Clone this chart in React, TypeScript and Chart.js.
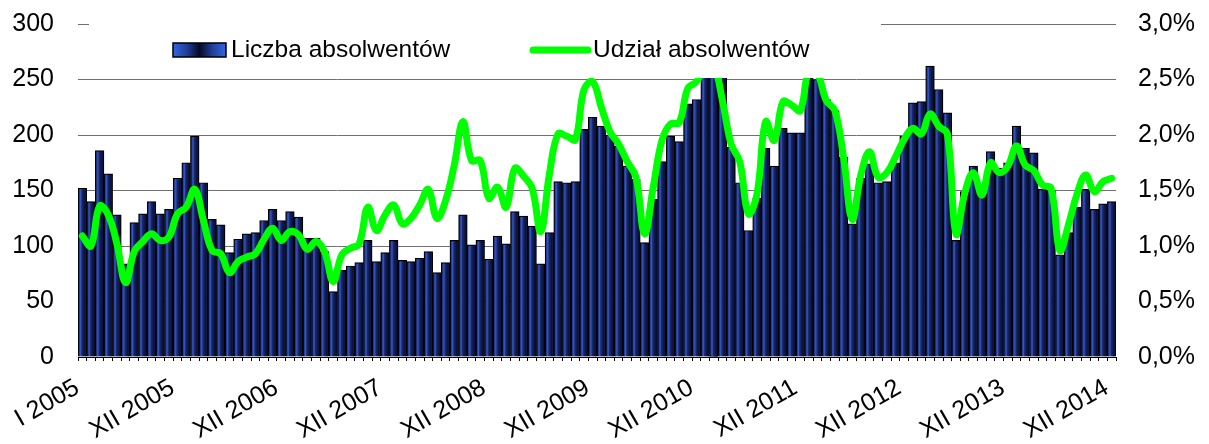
import { useEffect, useRef } from 'react';
import { Chart, registerables } from 'chart.js';

Chart.register(...registerables);

const romanMonths = ['I', 'II', 'III', 'IV', 'V', 'VI', 'VII', 'VIII', 'IX', 'X', 'XI', 'XII'];
const years = [2005, 2006, 2007, 2008, 2009, 2010, 2011, 2012, 2013, 2014];
const categories = years.flatMap((y) => romanMonths.map((m) => `${m} ${y}`));
const shownTickLabels = [
  'I 2005', 'XII 2005', 'XII 2006', 'XII 2007', 'XII 2008', 'XII 2009',
  'XII 2010', 'XII 2011', 'XII 2012', 'XII 2013', 'XII 2014',
];

// Liczba absolwentów (left axis)
const graduatesCount = [
  152, 140, 186, 165, 128, 84, 121, 129, 140, 129, 133, 161,
  175, 199, 157, 124, 119, 94, 106, 111, 112, 123, 133, 123,
  131, 126, 107, 107, 95, 59, 78, 82, 85, 105, 86, 94,
  105, 87, 86, 89, 95, 76, 85, 105, 128, 101, 105, 88,
  109, 102, 131, 127, 118, 84, 112, 158, 157, 158, 205, 216,
  208, 200, 190, 172, 160, 103, 142, 176, 199, 194, 228, 232,
  262, 268, 254, 189, 157, 114, 143, 188, 172, 206, 202, 202,
  262, 250, 232, 222, 180, 120, 161, 174, 157, 158, 175, 199,
  229, 230, 262, 241, 220, 105, 149, 172, 150, 185, 170, 175,
  208, 188, 184, 151, 150, 92, 112, 135, 151, 133, 138, 140,
];

// Udział absolwentów, % (right axis)
const graduatesShare = [
  1.09, 1.0, 1.36, 1.28, 1.02, 0.67, 0.95, 1.04, 1.11, 1.05, 1.08, 1.29,
  1.35, 1.51, 1.23, 0.96, 0.93, 0.76, 0.86, 0.9, 0.93, 1.06, 1.16, 1.05,
  1.13, 1.1, 0.97, 1.04, 0.95, 0.68, 0.92, 0.98, 1.02, 1.35, 1.14, 1.28,
  1.37, 1.2, 1.25, 1.37, 1.51, 1.25, 1.41, 1.73, 2.12, 1.77, 1.77, 1.43,
  1.53, 1.35, 1.7, 1.63, 1.52, 1.13, 1.65, 2.01, 1.99, 1.96, 2.41, 2.48,
  2.25, 2.03, 1.92, 1.76, 1.62, 1.11, 1.53, 1.95, 2.1, 2.11, 2.42, 2.48,
  2.62, 2.62, 2.31, 1.92, 1.76, 1.29, 1.47, 2.12, 1.95, 2.3, 2.27, 2.22,
  2.58, 2.55, 2.31, 2.22, 1.8, 1.24, 1.64, 1.85, 1.62, 1.66, 1.8, 1.96,
  2.06, 2.01, 2.19, 2.08, 2.01, 1.11, 1.47, 1.66, 1.46, 1.75, 1.66, 1.72,
  1.9, 1.73, 1.68, 1.55, 1.52, 0.96, 1.19, 1.47, 1.64, 1.49, 1.58, 1.61,
];

const seriesNames = ['Liczba absolwentów', 'Udział absolwentów'];

const FONT_FAMILY = '"Liberation Sans", Arial, Helvetica, sans-serif';
const GREEN = '#00ff00';

function barGradient(c: CanvasRenderingContext2D, x0: number, x1: number) {
  const g = c.createLinearGradient(x0, 0, x1, 0);
  g.addColorStop(0, '#0e1848');
  g.addColorStop(0.3, '#3356cc');
  g.addColorStop(0.45, '#1a2a6c');
  g.addColorStop(0.75, '#0b133c');
  g.addColorStop(1, '#0e1848');
  return g;
}

function legendGradient(c: CanvasRenderingContext2D, x0: number, x1: number) {
  const g = c.createLinearGradient(x0, 0, x1, 0);
  g.addColorStop(0, '#3565e6');
  g.addColorStop(0.25, '#22409e');
  g.addColorStop(0.5, '#050a24');
  g.addColorStop(0.75, '#22409e');
  g.addColorStop(1, '#3565e6');
  return g;
}

const legendBoxPlugin = {
  id: 'legendBox',
  afterDatasetsDraw(chart: any) {
    const c: CanvasRenderingContext2D = chart.ctx;
    const area = chart.chartArea;
    c.save();
    // white legend background covering the top of the plot
    c.fillStyle = '#ffffff';
    c.fillRect(area.left + 11, 0, 792, 78);
    // bar swatch
    const sx = area.left + 95;
    c.fillStyle = legendGradient(c, sx, sx + 53);
    c.fillRect(sx, 43, 53, 14);
    c.lineWidth = 1.5;
    c.strokeStyle = '#000';
    c.strokeRect(sx, 43, 53, 14);
    c.font = `24.5px ${FONT_FAMILY}`;
    c.fillStyle = '#000';
    c.textBaseline = 'alphabetic';
    c.textAlign = 'left';
    c.fillText(seriesNames[0], sx + 58, 57);
    // line swatch
    const lx = area.left + 455;
    c.strokeStyle = GREEN;
    c.lineWidth = 7;
    c.lineCap = 'round';
    c.beginPath();
    c.moveTo(lx, 50);
    c.lineTo(lx + 55, 50);
    c.stroke();
    c.fillText(seriesNames[1], lx + 60, 57);
    c.restore();
  },
};

export default function App() {
  const canvasRef = useRef<HTMLCanvasElement | null>(null);

  useEffect(() => {
    document.body.style.margin = '0';
    const canvas = canvasRef.current;
    if (!canvas) return;
    const tickFont = { family: FONT_FAMILY, size: 25 };
    const chart = new Chart(canvas, {
      type: 'bar',
      data: {
        labels: categories,
        datasets: [
          {
            type: 'line',
            label: seriesNames[1],
            data: graduatesShare,
            yAxisID: 'y1',
            borderColor: GREEN,
            borderWidth: 7,
            pointRadius: 0,
            tension: 0.4,
            fill: false,
            order: 0,
            borderCapStyle: 'round',
            borderJoinStyle: 'round',
          } as any,
          {
            type: 'bar',
            label: seriesNames[0],
            data: graduatesCount,
            yAxisID: 'y',
            order: 1,
            barPercentage: 1,
            categoryPercentage: 1,
            borderWidth: 1.2,
            borderColor: '#000000',
            backgroundColor: (ctx: any) => {
              const ch = ctx.chart;
              const xs = ch.scales && ch.scales.x;
              if (!ch.chartArea || !xs || ctx.dataIndex === undefined) return '#1a2a6e';
              const cx = xs.getPixelForValue(ctx.dataIndex);
              const w = xs.width / categories.length;
              return barGradient(ch.ctx, cx - w / 2, cx + w / 2);
            },
          } as any,
        ],
      },
      options: {
        animation: false,
        responsive: false,
        devicePixelRatio: 1,
        layout: { padding: { top: 24, left: 0, right: 0, bottom: 0 } },
        plugins: {
          legend: { display: false },
          tooltip: { enabled: false },
        },
        scales: {
          x: {
            type: 'category',
            offset: true,
            grid: {
              display: true,
              drawOnChartArea: false,
              tickLength: 4,
              color: '#000',
              offset: true,
            },
            border: { display: true, color: '#000', width: 1 },
            ticks: {
              autoSkip: false,
              maxRotation: 30,
              minRotation: 30,
              padding: 12,
              labelOffset: -5,
              color: '#000',
              font: tickFont,
              callback: (_v: any, index: number) => {
                const l = categories[index];
                return shownTickLabels.includes(l) ? l : '';
              },
            },
            afterFit: (s: any) => {
              s.height = 87;
              s.paddingLeft = 0;
              s.paddingRight = 0;
            },
          },
          y: {
            position: 'left',
            min: 0,
            max: 300,
            ticks: { stepSize: 50, padding: 24, color: '#000', font: tickFont },
            grid: { color: '#707070', lineWidth: 1, drawTicks: false },
            border: { display: false },
            afterFit: (s: any) => {
              s.width = 78;
              s.paddingTop = 0;
              s.paddingBottom = 0;
            },
          },
          y1: {
            position: 'right',
            min: 0,
            max: 3,
            ticks: {
              stepSize: 0.5,
              padding: 22,
              color: '#000',
              font: tickFont,
              callback: (v: any) => Number(v).toFixed(1).replace('.', ',') + '%',
            },
            grid: { display: false, drawTicks: false },
            border: { display: false },
            afterFit: (s: any) => {
              s.width = 93;
              s.paddingTop = 0;
              s.paddingBottom = 0;
            },
          },
        },
      } as any,
      plugins: [legendBoxPlugin],
    });
    return () => chart.destroy();
  }, []);

  return (
    <div style={{ width: 1209, height: 444, background: '#fff' }}>
      <canvas ref={canvasRef} width={1209} height={444} style={{ display: 'block' }} />
    </div>
  );
}
